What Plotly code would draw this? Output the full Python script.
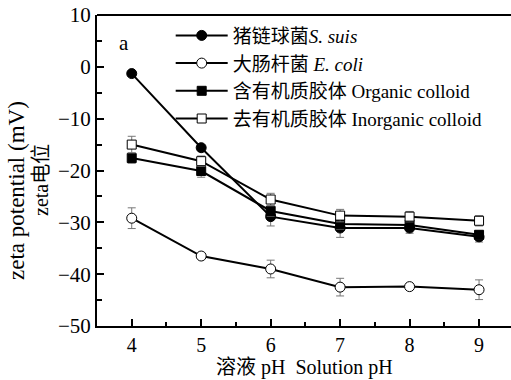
import plotly.graph_objects as go

ph = [4, 5, 6, 7, 8, 9]
s_suis = [-1.3, -15.6, -28.9, -31.1, -31.1, -32.8]
s_suis_err = [0.3, 0.3, 1.8, 1.8, 1.0, 1.0]
e_coli = [-29.2, -36.5, -39.0, -42.5, -42.4, -43.0]
e_coli_err = [2.0, 0.5, 1.7, 1.7, 0.3, 1.9]
organic = [-17.6, -20.1, -27.8, -30.3, -30.5, -32.4]
organic_err = [1.0, 1.2, 1.0, 1.0, 0.8, 0.8]
inorganic = [-15.0, -18.2, -25.6, -28.7, -28.9, -29.7]
inorganic_err = [1.6, 1.0, 1.2, 1.2, 1.0, 1.0]

names = ["猪链球菌<i>S. suis</i>", "大肠杆菌 <i>E. coli</i>",
         "含有机质胶体 Organic colloid", "去有机质胶体 Inorganic colloid"]
y_title_en = "zeta potential (mV)"
y_title_cn = "zeta电位"
x_title = "溶液 pH  Solution pH"
y_ticks = [-50, -40, -30, -20, -10, 0, 10]
y_ticktext = ["−50", "−40", "−30", "−20", "−10", "0", "10"]

FONT = "Liberation Serif, Times New Roman, Noto Sans CJK SC, serif"
PLOT_L, PLOT_W, PLOT_B, PLOT_H = 97, 414, 326, 311

fig = go.Figure()
series = [
    (s_suis, s_suis_err, "circle", True),
    (e_coli, e_coli_err, "circle", False),
    (organic, organic_err, "square", True),
    (inorganic, inorganic_err, "square", False),
]
for (vals, err, sym, filled), nm in zip(series, names):
    marker = dict(symbol=sym, size=10 if sym == "circle" else 9,
                  color="black" if filled else "white",
                  line=dict(color="black", width=1))
    fig.add_trace(go.Scatter(
        x=ph, y=vals, name=nm, mode="lines+markers",
        line=dict(color="black", width=2),
        marker=marker,
        error_y=dict(type="data", array=err, visible=True, color="#777777",
                     thickness=1, width=4),
    ))

def px_annot(px, py, text, size, angle=0):
    fig.add_annotation(x=(px - PLOT_L) / PLOT_W, y=(PLOT_B - py) / PLOT_H,
                       xref="paper", yref="paper", text=text, textangle=angle,
                       xanchor="center", yanchor="middle", showarrow=False,
                       font=dict(size=size, family=FONT, color="black"))

px_annot(124, 43, "a", 21)
px_annot(16, 191, y_title_en, 23, -90)
px_annot(41, 180, y_title_cn, 20, -90)
px_annot(304, 367, x_title, 20)

fig.update_layout(
    width=511, height=380,
    margin=dict(l=PLOT_L, r=0, t=15, b=54),
    paper_bgcolor="white", plot_bgcolor="white",
    font=dict(family=FONT, size=20, color="black"),
    showlegend=True,
    legend=dict(x=0.178, y=0.995, xanchor="left", yanchor="top",
                bgcolor="rgba(0,0,0,0)", font=dict(size=19, family=FONT),
                itemwidth=52, tracegroupgap=0),
    xaxis=dict(range=[3.5, 9.46], tickvals=ph, ticks="inside", ticklen=7,
               tickwidth=2, tickcolor="black",
               minor=dict(dtick=0.5, ticks="inside", ticklen=4, tickwidth=2, tickcolor="black"),
               showline=True, linewidth=2, linecolor="black", mirror=False,
               showgrid=False, zeroline=False,
               tickfont=dict(size=20, family=FONT)),
    yaxis=dict(range=[-50, 10], tickvals=y_ticks, ticktext=y_ticktext,
               ticks="inside", ticklen=7, tickwidth=2, tickcolor="black",
               minor=dict(dtick=5, ticks="inside", ticklen=5, tickwidth=2, tickcolor="black"),
               showline=True, linewidth=2, linecolor="black", mirror=False,
               showgrid=False, zeroline=False,
               tickfont=dict(size=21, family=FONT)),
    shapes=[dict(type="line", xref="paper", yref="paper", x0=0, x1=1, y0=1, y1=1,
                 line=dict(color="black", width=2))],
)

fig.write_html("out.html")
